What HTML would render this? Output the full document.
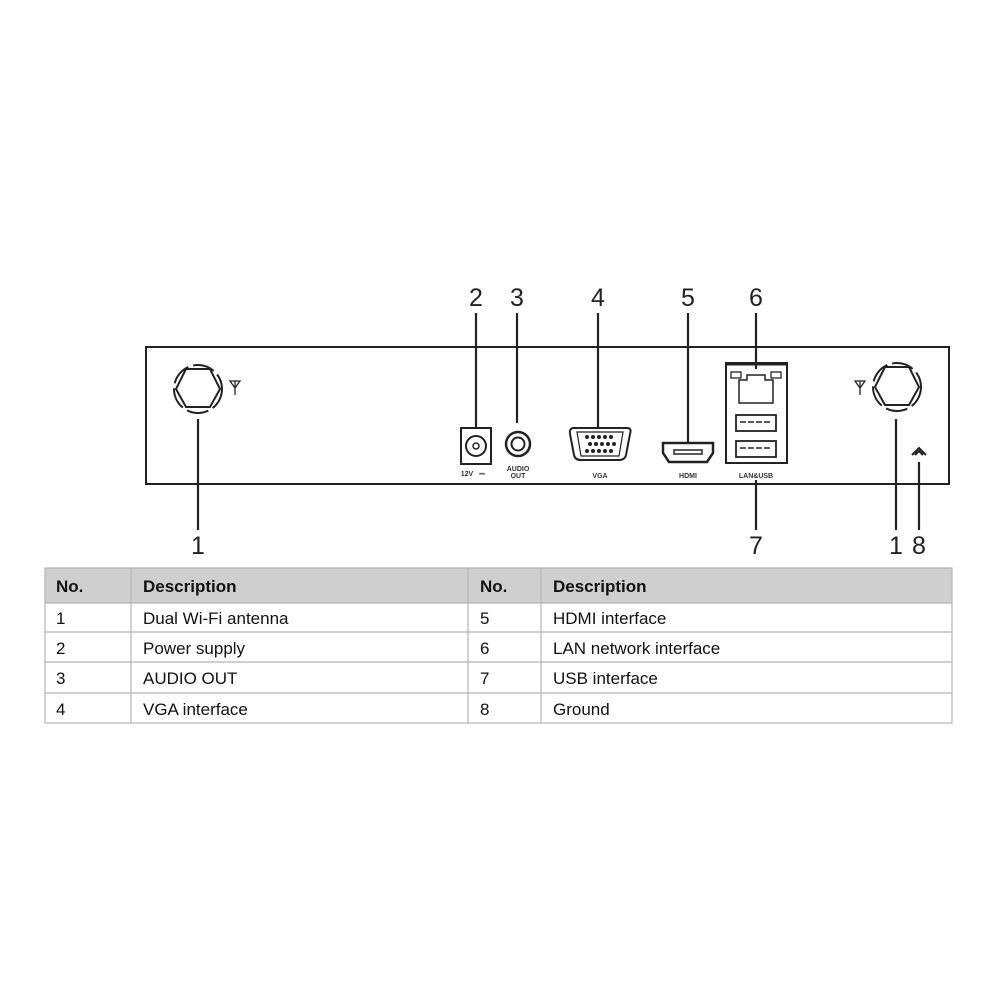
<!DOCTYPE html>
<html><head><style>
body{margin:0;background:#fff;width:1000px;height:1000px;overflow:hidden}
svg{display:block}
</style></head><body>
<svg width="1000" height="1000" xmlns="http://www.w3.org/2000/svg" font-family="Liberation Sans, sans-serif">
<rect width="1000" height="1000" fill="#fff"/>
<!-- chassis -->
<rect x="146" y="347" width="803" height="137" fill="none" stroke="#222" stroke-width="2"/>
<!-- callout numbers -->
<g font-size="25" fill="#222" text-anchor="middle">
<text x="476" y="306">2</text><text x="517" y="306">3</text><text x="598" y="306">4</text>
<text x="688" y="306">5</text><text x="756" y="306">6</text>
<text x="198" y="554">1</text><text x="756" y="554">7</text>
<text x="896" y="554">1</text><text x="919" y="554">8</text>
</g>
<g stroke="#222" stroke-width="2.2">
<line x1="476" y1="313" x2="476" y2="428"/>
<line x1="517" y1="313" x2="517" y2="423"/>
<line x1="598" y1="313" x2="598" y2="427"/>
<line x1="688" y1="313" x2="688" y2="442"/>
<line x1="756" y1="313" x2="756" y2="369"/>
<line x1="198" y1="419" x2="198" y2="530"/>
<line x1="756" y1="480" x2="756" y2="530"/>
<line x1="896" y1="419" x2="896" y2="530"/>
<line x1="919" y1="462" x2="919" y2="530"/>
</g>
<!-- antennas -->
<g fill="none" stroke="#222" stroke-width="2">
<circle cx="198" cy="389" r="24" stroke-dasharray="22 5"/>
<polygon points="186,369 210,369 220,389 210,407 186,407 176,389"/>
<circle cx="897" cy="387" r="24" stroke-dasharray="22 5"/>
<polygon points="885,367 909,367 919,387 909,405 885,405 875,387"/>
<path d="M230,381 L240,381 L235,388 Z M235,381 V395" stroke-width="1.3"/>
<path d="M855,381 L865,381 L860,388 Z M860,381 V395" stroke-width="1.3"/>
</g>
<!-- ground -->
<path d="M912,455 L919,448 L926,455 M915,455 L919,451 L923,455" fill="none" stroke="#222" stroke-width="2"/>
<!-- power -->
<rect x="461" y="428" width="30" height="36" fill="none" stroke="#222" stroke-width="2"/>
<circle cx="476" cy="446" r="10" fill="none" stroke="#222" stroke-width="2"/>
<circle cx="476" cy="446" r="3" fill="none" stroke="#222" stroke-width="1.5"/>
<!-- audio -->
<circle cx="518" cy="444" r="12" fill="none" stroke="#222" stroke-width="2.5"/>
<circle cx="518" cy="444" r="6.5" fill="none" stroke="#222" stroke-width="2"/>
<g font-size="7" font-weight="bold" fill="#333" text-anchor="middle">
<text x="467" y="476">12V</text><text x="482" y="476">⎓</text>
<text x="518" y="471">AUDIO</text><text x="518" y="478">OUT</text>
<text x="600" y="478">VGA</text><text x="688" y="478">HDMI</text><text x="756" y="478">LAN&amp;USB</text>
</g>
<!-- VGA -->
<path d="M574,428 H627 Q632,428 630,434 L626,455 Q625,460 619,460 H581 Q575,460 574,455 L570,434 Q569,428 574,428 Z" fill="none" stroke="#222" stroke-width="2"/>
<path d="M577,432 H623 L619,456 H581 Z" fill="none" stroke="#222" stroke-width="1.2"/>
<g fill="#222">
<circle cx="587" cy="437" r="2"/><circle cx="593" cy="437" r="2"/><circle cx="599" cy="437" r="2"/><circle cx="605" cy="437" r="2"/><circle cx="611" cy="437" r="2"/>
<circle cx="590" cy="444" r="2"/><circle cx="596" cy="444" r="2"/><circle cx="602" cy="444" r="2"/><circle cx="608" cy="444" r="2"/><circle cx="614" cy="444" r="2"/>
<circle cx="587" cy="451" r="2"/><circle cx="593" cy="451" r="2"/><circle cx="599" cy="451" r="2"/><circle cx="605" cy="451" r="2"/><circle cx="611" cy="451" r="2"/>
</g>
<!-- HDMI -->
<path d="M663,443 H713 V453 L707,462 H669 L663,453 Z" fill="none" stroke="#222" stroke-width="2.5"/>
<rect x="674" y="450" width="28" height="4" fill="none" stroke="#222" stroke-width="1.5"/>
<!-- LAN & USB -->
<rect x="726" y="363" width="61" height="100" fill="none" stroke="#222" stroke-width="2"/>
<line x1="726" y1="364" x2="787" y2="364" stroke="#222" stroke-width="3"/>
<path d="M739,403 V380 H747 V375 H765 V380 H773 V403 Z" fill="none" stroke="#222" stroke-width="1.5"/>
<rect x="731" y="372" width="10" height="6" fill="none" stroke="#222" stroke-width="1.3"/>
<rect x="771" y="372" width="10" height="6" fill="none" stroke="#222" stroke-width="1.3"/>
<rect x="736" y="415" width="40" height="16" fill="none" stroke="#222" stroke-width="1.8"/>
<line x1="740" y1="422" x2="772" y2="422" stroke="#222" stroke-width="1.5" stroke-dasharray="6 2"/>
<rect x="736" y="441" width="40" height="16" fill="none" stroke="#222" stroke-width="1.8"/>
<line x1="740" y1="448" x2="772" y2="448" stroke="#222" stroke-width="1.5" stroke-dasharray="6 2"/>
<!-- table -->
<rect x="45" y="568" width="907" height="35" fill="#cfcfcf"/>
<g stroke="#b5b5b5" stroke-width="1.2" fill="none">
<rect x="45" y="568" width="907" height="155"/>
<line x1="45" y1="603" x2="952" y2="603"/><line x1="45" y1="632" x2="952" y2="632"/>
<line x1="45" y1="662" x2="952" y2="662"/><line x1="45" y1="693" x2="952" y2="693"/>
<line x1="131" y1="568" x2="131" y2="723"/><line x1="468" y1="568" x2="468" y2="723"/>
<line x1="541" y1="568" x2="541" y2="723"/>
</g>
<g font-size="17" fill="#111">
<g font-weight="bold"><text x="56" y="592">No.</text><text x="143" y="592">Description</text><text x="480" y="592">No.</text><text x="553" y="592">Description</text></g>
<text x="56" y="624">1</text><text x="143" y="624">Dual Wi-Fi antenna</text><text x="480" y="624">5</text><text x="553" y="624">HDMI interface</text>
<text x="56" y="654">2</text><text x="143" y="654">Power supply</text><text x="480" y="654">6</text><text x="553" y="654">LAN network interface</text>
<text x="56" y="684">3</text><text x="143" y="684">AUDIO OUT</text><text x="480" y="684">7</text><text x="553" y="684">USB interface</text>
<text x="56" y="715">4</text><text x="143" y="715">VGA interface</text><text x="480" y="715">8</text><text x="553" y="715">Ground</text>
</g>
</svg>
</body></html>
